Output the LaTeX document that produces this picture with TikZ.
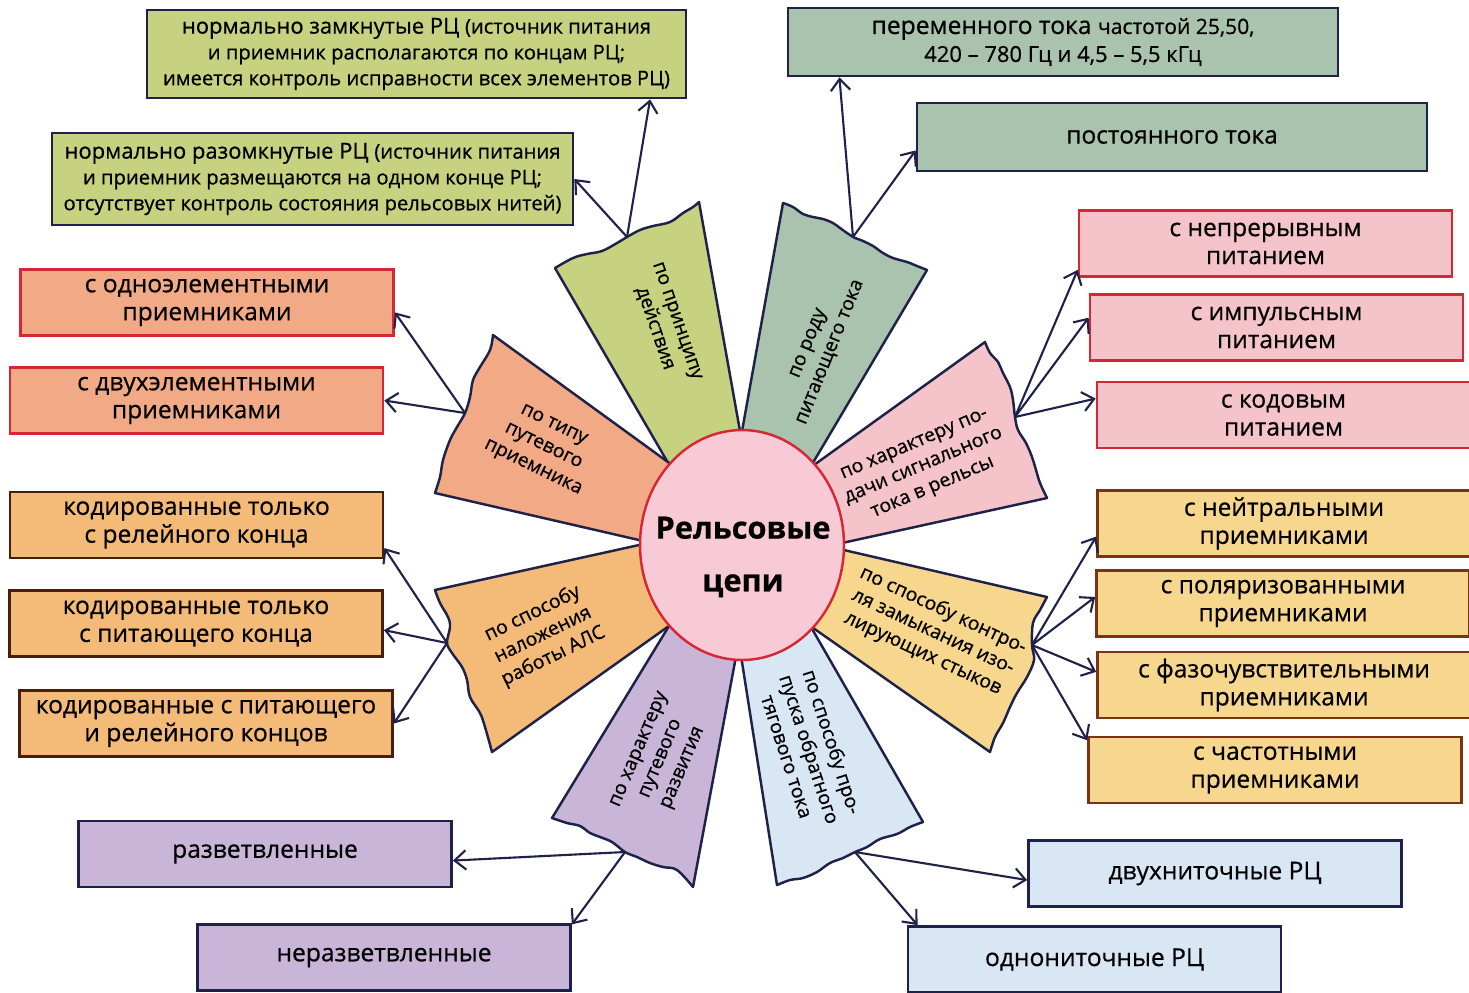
\documentclass[tikz,border=0pt]{standalone}
\usepackage{fontspec}
\setmainfont{Open Sans}[FakeBold=0.6]
\usepackage{xcolor}
\definecolor{Col1}{RGB}{199,210,128}
\definecolor{Col2}{RGB}{170,195,174}
\definecolor{Col3}{RGB}{245,196,202}
\definecolor{Col4}{RGB}{247,214,142}
\definecolor{Col5}{RGB}{217,231,245}
\definecolor{Col6}{RGB}{200,181,216}
\definecolor{Col7}{RGB}{244,186,120}
\definecolor{Col8}{RGB}{242,170,134}
\definecolor{ColC}{RGB}{248,202,214}
\definecolor{ColL}{RGB}{30,34,72}
\definecolor{ColR}{RGB}{214,40,52}
\definecolor{ColBr}{RGB}{122,52,20}
\definecolor{ColDk}{RGB}{72,30,14}
\usepackage{tikz}
\usetikzlibrary{shapes.geometric}
\usetikzlibrary{arrows.meta}
\newcommand{\SmallTxt}{\fontsize{11.5}{14.7}\selectfont}
\tikzstyle{Petal}=[draw=ColL,line width=1.4pt,line join=round]
\tikzstyle{Hub}=[ellipse,draw=ColR,fill=ColC,line width=1.4pt,inner sep=0pt,
minimum width=4.08cm,minimum height=4.6cm]
\tikzstyle{HubST}=[align=center,inner sep=0pt,font=\fontsize{17.5}{30}\selectfont\bfseries]
\tikzstyle{NodePT}=[align=center,inner sep=1pt,font=\fontsize{11}{13.5}\selectfont]
\tikzstyle{Box}=[rectangle,draw=ColL,line width=1.6pt,inner sep=0pt,
minimum width=7.46cm,minimum height=1.32cm,align=center,
font=\fontsize{14}{15.9}\selectfont]
\tikzstyle{Arrow}=[draw=ColL,line width=1.2pt,
-{Straight Barb[length=6.5pt,width=11pt]}]

\begin{document}
\begin{tikzpicture}[x=0.02cm,y=-0.02cm]
        \useasboundingbox(0,0)rectangle(1469,992);
        % petals
        \draw[Petal,fill=Col1](700,518)--plot[smooth,tension=.6]coordinates{(555,268)(573,258)(587,254)(602,251)(617,243)(627,237)(640,230)(653,226)(670,222)(683,213)(693,207)(699,202)}--(752,498)--cycle;
        \draw[Petal,fill=Col2](730,498)--plot[smooth,tension=.6]coordinates{(783,203)(793,207)(803,214)(813,217)(823,219)(833,223)(840,228)(847,233)(853,237)(863,241)(873,246)(883,253)(893,258)(907,262)(917,266)(927,270)}--(785,510)--cycle;
        \draw[Petal,fill=Col3](775,493)--plot[smooth,tension=.6]coordinates{(985,342)(990,353)(998,362)(1003,373)(1010,387)(1013,400)(1015,417)(1018,430)(1026,443)(1032,457)(1036,470)(1040,483)(1047,498)}--(792,554)--cycle;
        \draw[Petal,fill=Col4](792,538)--plot[smooth,tension=.6]coordinates{(1047,597)(1040,610)(1033,623)(1032,645)(1034,660)(1027,677)(1017,693)(1010,707)(1003,723)(995,737)(990,752)}--(769,597)--cycle;
        \draw[Petal,fill=Col5](731,592)--plot[smooth,tension=.6]coordinates{(777,885)(790,880)(803,878)(817,872)(830,863)(843,858)(855,852)(867,847)(880,839)(897,834)(910,827)(923,822)}--(784,580)--cycle;
        \draw[Petal,fill=Col6](697,580)--plot[smooth,tension=.6]coordinates{(552,818)(567,823)(580,826)(590,833)(600,837)(612,842)(625,852)(637,857)(650,863)(663,867)(677,870)(693,887)}--(748,592)--cycle;
        \draw[Petal,fill=Col7](698,532)--plot[smooth,tension=.6]coordinates{(435,590)(440,603)(448,617)(450,627)(447,643)(452,653)(462,667)(467,680)(470,697)(480,713)(485,727)(492,752)}--(711,596)--cycle;
        \draw[Petal,fill=Col8](712,494)--plot[smooth,tension=.6]coordinates{(493,335)(490,350)(480,367)(473,380)(470,397)(465,413)(457,427)(450,440)(443,460)(440,477)(435,493)}--(691,552)--cycle;
        \node[Hub](c)at(742.00,545.00){};
        \node[HubST](c1)at(743.00,557.00){Рельсовые\\цепи};
        % petal labels
        \node[NodePT,rotate=-71](p1)at(665.00,325.00){по принципу\\действия};
        \node[NodePT,rotate=68](p2)at(820.00,348.00){по роду\\питающего тока};
        \node[NodePT,rotate=23](p3)at(924.00,467.00){по характеру по-\\дачи сигнального\\тока в рельсы};
        \node[NodePT,rotate=-25](p4)at(933.00,632.00){по способу контро-\\ля замыкания изо-\\лирующих стыков};
        \node[NodePT,rotate=-72](p5)at(810.00,749.00){по способу про-\\пуска обратного\\тягового тока};
        \node[NodePT,rotate=67](p6)at(662.00,759.00){по характеру\\путевого\\развития};
        \node[NodePT,rotate=26](p7)at(543.00,635.00){по способу\\наложения\\работы АЛС};
        \node[NodePT,rotate=-26](p8)at(543.00,447.00){по типу\\путевого\\приемника};
        % arrow origins
        \coordinate(a1)at(627,237);
        \coordinate(a2)at(853,237);
        \coordinate(a3)at(1015,417);
        \coordinate(a4)at(1032,645);
        \coordinate(a5)at(855,852);
        \coordinate(a6)at(625,852);
        \coordinate(a7)at(447,643);
        \coordinate(a8)at(465,413);
        % boxes
        \node[Box,fill=Col1,minimum width=10.78cm,minimum height=1.76cm,
            font=\fontsize{12.5}{14.7}\selectfont](b11)at(416.50,54.00)
            {нормально замкнутые РЦ {\SmallTxt(источник питания}\\
            {\SmallTxt и приемник располагаются по концам РЦ;}\\
            {\SmallTxt имеется контроль исправности всех элементов РЦ)}};
        \node[Box,fill=Col1,minimum width=10.42cm,minimum height=1.84cm,
            font=\fontsize{12.5}{14.7}\selectfont](b12)at(312.50,179.00)
            {нормально разомкнутые РЦ {\SmallTxt(источник питания}\\
            {\SmallTxt и приемник размещаются на одном конце РЦ;}\\
            {\SmallTxt отсутствует контроль состояния рельсовых нитей)}};
        \node[Box,fill=Col2,minimum width=11.00cm,minimum height=1.36cm](b21)
            at(1063.00,42.00){переменного тока {\fontsize{12}{15.9}\selectfont частотой 25,50,}\\
            {\fontsize{12.5}{15.9}\selectfont 420 – 780 Гц и 4,5 – 5,5 кГц}};
        \node[Box,fill=Col2,minimum width=10.20cm,minimum height=1.36cm](b22)
            at(1172.00,137.00){постоянного тока};
        \node[Box,fill=Col3,draw=ColR](b31)at(1265.50,243.50){с непрерывным\\питанием};
        \node[Box,fill=Col3,draw=ColR](b32)at(1276.50,327.50){с импульсным\\питанием};
        \node[Box,fill=Col3,draw=ColR](b33)at(1283.50,415.00){с кодовым\\питанием};
        \node[Box,fill=Col4,draw=ColBr](b41)at(1284.00,523.50){с нейтральными\\приемниками};
        \node[Box,fill=Col4,draw=ColBr](b42)at(1283.00,603.50){с поляризованными\\приемниками};
        \node[Box,fill=Col4,draw=ColBr](b43)at(1284.00,685.00){с фазочувствительными\\приемниками};
        \node[Box,fill=Col4,draw=ColBr](b44)at(1275.00,770.00){с частотными\\приемниками};
        \node[Box,fill=Col5](b51)at(1215.00,873.50){двухниточные РЦ};
        \node[Box,fill=Col5](b52)at(1094.50,959.50){однониточные РЦ};
        \node[Box,fill=Col6](b61)at(265.00,854.00){разветвленные};
        \node[Box,fill=Col6](b62)at(384.00,957.50){неразветвленные};
        \node[Box,fill=Col7,draw=ColDk](b71)at(196.50,525.00){кодированные только\\с релейного конца};
        \node[Box,fill=Col7,draw=ColDk](b72)at(196.00,623.50){кодированные только\\с питающего конца};
        \node[Box,fill=Col7,draw=ColDk](b73)at(206.00,723.50){кодированные с питающего\\и релейного концов};
        \node[Box,fill=Col8,draw=ColR](b81)at(207.00,302.50){с одноэлементными\\приемниками};
        \node[Box,fill=Col8,draw=ColR](b82)at(196.50,400.50){с двухэлементными\\приемниками};
        % arrows
        \draw[Arrow](a1)--(b11.-11.3);
        \draw[Arrow](a1)--(b12.east);
        \draw[Arrow](a2)--(b21.-171.5);
        \draw[Arrow](a2)--(b22.183.4);
        \draw[Arrow](a3)--(b31.188.7);
        \draw[Arrow](a3)--(b32.177.1);
        \draw[Arrow](a3)--(b33.175.4);
        \draw[Arrow](a4)--(b41.184.2);
        \draw[Arrow](a4)--(b42.178.3);
        \draw[Arrow](a4)--(b43.176.3);
        \draw[Arrow](a4)--(b44.171.8);
        \draw[Arrow](a5)--(b51.182.9);
        \draw[Arrow](a5)--(b52.169.9);
        \draw[Arrow](a6)--(b61.-2.5);
        \draw[Arrow](a6)--(b62.10.3);
        \draw[Arrow](a7)--(b71.-7.6);
        \draw[Arrow](a7)--(b72.-2.9);
        \draw[Arrow](a7)--(b73.east);
        \draw[Arrow](a8)--(b81.-3.8);
        \draw[Arrow](a8)--(b82.east);
    \end{tikzpicture}
\end{document}
